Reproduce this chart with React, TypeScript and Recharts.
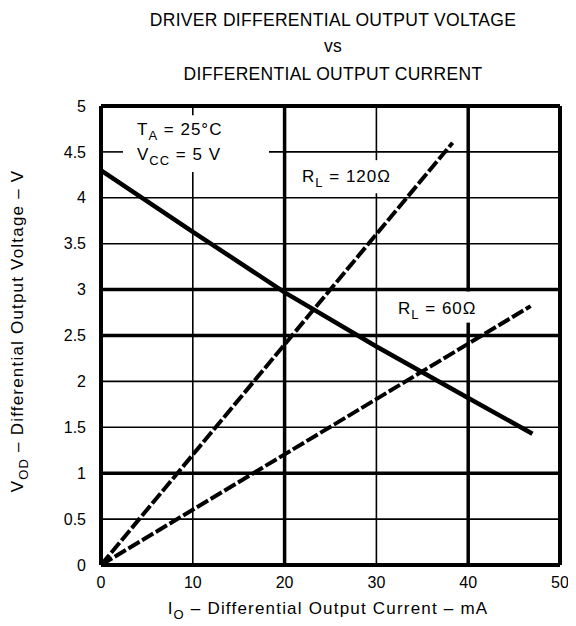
import {
  LineChart,
  Line,
  XAxis,
  YAxis,
  ReferenceLine,
  Customized,
} from "recharts";

// I_O in mA, V_OD in V
const solidCurrent = [0, 10, 20, 30, 40, 47];
const solidVoltage = [4.3, 3.63, 2.97, 2.38, 1.82, 1.43];

const rl120Current = [0, 38.3];
const rl120Voltage = [0, 4.6];

const rl60Current = [0, 46.8];
const rl60Voltage = [0, 2.82];

const xTicks = [0, 10, 20, 30, 40, 50];
const yTicks = [0, 0.5, 1, 1.5, 2, 2.5, 3, 3.5, 4, 4.5, 5];

const thickX = [20, 40];
const thickY = [1, 2.5, 3];

const FONT = '"Liberation Sans", Arial, Helvetica, sans-serif';

const toPoints = (xs: number[], ys: number[]) =>
  xs.map((x, i) => ({ current: x, voltage: ys[i] }));

const solidData = toPoints(solidCurrent, solidVoltage);
const rl120Data = toPoints(rl120Current, rl120Voltage);
const rl60Data = toPoints(rl60Current, rl60Voltage);

// grid lines broken where the labels sit
const gaps: Record<string, [number, number][]> = {
  "y4.5": [[2.4, 18.3]],
  x10: [[4.28, 4.9]],
  x30: [[4.05, 4.41]],
  x40: [[2.64, 2.98]],
};

const pieces = (from: number, to: number, cut: [number, number][] = []) => {
  const out: [number, number][] = [];
  let start = from;
  cut.forEach(([a, b]) => {
    out.push([start, a]);
    start = b;
  });
  out.push([start, to]);
  return out;
};

const Texts = () => (
  <g fontFamily={FONT} fill="#000">
    <g fontSize={17.5} textAnchor="middle" letterSpacing={0.3}>
      <text x={325} y={18}>DRIVER DIFFERENTIAL OUTPUT VOLTAGE</text>
      <text x={325} y={44}>vs</text>
      <text x={325} y={72}>DIFFERENTIAL OUTPUT CURRENT</text>
    </g>
    <g fontSize={17} letterSpacing={1}>
      <text x={129} y={127}>
        T<tspan dy={5} fontSize={13}>A</tspan>
        <tspan dy={-5}> = 25°C</tspan>
      </text>
      <text x={129} y={152}>
        V<tspan dy={5} fontSize={13}>CC</tspan>
        <tspan dy={-5}> = 5 V</tspan>
      </text>
      <text x={294} y={174}>
        R<tspan dy={5} fontSize={13}>L</tspan>
        <tspan dy={-5}> = 120Ω</tspan>
      </text>
      <text x={390} y={306}>
        R<tspan dy={5} fontSize={13}>L</tspan>
        <tspan dy={-5}> = 60Ω</tspan>
      </text>
    </g>
    <text x={320} y={606} fontSize={17} letterSpacing={1.2} textAnchor="middle">
      I<tspan dy={5} fontSize={13}>O</tspan>
      <tspan dy={-5}> – Differential Output Current – mA</tspan>
    </text>
    <text
      x={15}
      y={323}
      fontSize={17}
      letterSpacing={1.2}
      textAnchor="middle"
      transform="rotate(-90 15 323)"
    >
      V<tspan dy={5} fontSize={13}>OD</tspan>
      <tspan dy={-5}> – Differential Output Voltage – V</tspan>
    </text>
  </g>
);

export default function App() {
  const gridX = [10, 20, 30, 40];
  const gridY = [0.5, 1, 1.5, 2, 2.5, 3, 3.5, 4, 4.5];

  return (
    <LineChart
      width={568}
      height={618}
      margin={{ top: 98, right: 16, bottom: 31, left: 53 }}
    >
      <XAxis
        type="number"
        dataKey="current"
        domain={[0, 50]}
        ticks={xTicks}
        interval={0}
        axisLine={false}
        tickLine={false}
        tickSize={0}
        tickMargin={12}
        height={30}
        tick={{ fontSize: 16, fill: "#000", fontFamily: FONT }}
      />
      <YAxis
        type="number"
        dataKey="voltage"
        domain={[0, 5]}
        ticks={yTicks}
        interval={0}
        axisLine={false}
        tickLine={false}
        tickSize={0}
        tickMargin={15}
        width={40}
        tick={{ fontSize: 16, fill: "#000", fontFamily: FONT }}
      />

      {gridX.flatMap((x) =>
        pieces(0, 5, gaps[`x${x}`]).map(([a, b], i) => (
          <ReferenceLine
            key={`gx${x}-${i}`}
            segment={[
              { x, y: a },
              { x, y: b },
            ]}
            stroke="#000"
            strokeWidth={thickX.includes(x) ? 3.5 : 1.6}
          />
        ))
      )}
      {gridY.flatMap((y) =>
        pieces(0, 50, gaps[`y${y}`]).map(([a, b], i) => (
          <ReferenceLine
            key={`gy${y}-${i}`}
            segment={[
              { x: a, y },
              { x: b, y },
            ]}
            stroke="#000"
            strokeWidth={thickY.includes(y) ? 3.5 : 1.6}
          />
        ))
      )}
      <ReferenceLine x={0} stroke="#000" strokeWidth={4} />
      <ReferenceLine x={50} stroke="#000" strokeWidth={4} />
      <ReferenceLine y={0} stroke="#000" strokeWidth={4} />
      <ReferenceLine y={5} stroke="#000" strokeWidth={4} />

      <Line
        data={solidData}
        dataKey="voltage"
        type="linear"
        stroke="#000"
        strokeWidth={4.5}
        dot={false}
        isAnimationActive={false}
      />
      <Line
        data={rl120Data}
        dataKey="voltage"
        type="linear"
        stroke="#000"
        strokeWidth={4}
        strokeDasharray="13 3"
        dot={false}
        isAnimationActive={false}
      />
      <Line
        data={rl60Data}
        dataKey="voltage"
        type="linear"
        stroke="#000"
        strokeWidth={4}
        strokeDasharray="13 3"
        dot={false}
        isAnimationActive={false}
      />
      <Customized component={<Texts />} />
    </LineChart>
  );
}
